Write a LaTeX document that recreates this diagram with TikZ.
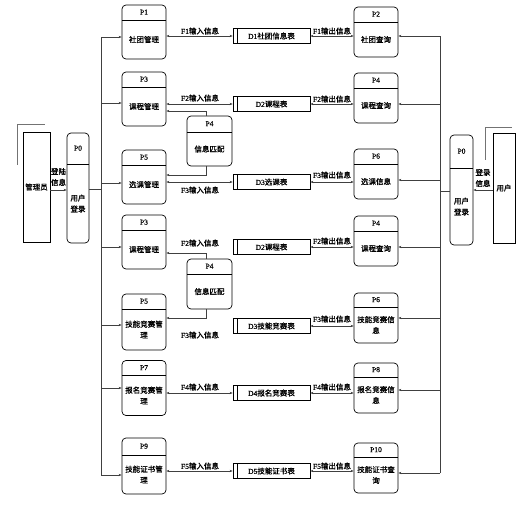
\documentclass[tikz,border=0pt]{standalone}
\usepackage{fontspec}
\setmainfont{Liberation Serif}[FakeBold=0.8]
\newfontfamily\cjk{Noto Sans CJK SC}[FakeBold=1.2]
\usetikzlibrary{arrows.meta}

% process box: name, x, y, width, height, header, id, text
\newcommand{\procnode}[8]{%
  \node[proc=#6, minimum width=#4, minimum height=#5] (#1) at (#2,#3) {};
  \node[idtext] (#1-id) at ([yshift=-#6/2]#1.north) {#7};
  \node[bodytext] (#1-tx) at ([yshift=-#6/2]#1.center) {#8};
}

\begin{document}
\begin{tikzpicture}[x=1pt, y=-1pt, font=\fontsize{7.5}{11}\selectfont,
    proc/.style={draw, rounded corners=4pt, inner sep=0pt, line width=0.7pt,
        path picture={\draw[line width=0.7pt] ([yshift=-#1]path picture bounding box.north west) -- ([yshift=-#1]path picture bounding box.north east);}},
    store/.style={draw, line width=0.7pt, minimum width=77pt, minimum height=15pt, inner sep=0pt,
        path picture={\draw[line width=0.7pt] ([xshift=4pt]path picture bounding box.north west) -- ([xshift=4pt]path picture bounding box.south west);}},
    entity/.style={draw, line width=0.7pt, minimum height=110pt, inner sep=0pt, font=\fontsize{7.5}{11}\selectfont\cjk},
    idtext/.style={inner sep=0pt},
    bodytext/.style={inner sep=0pt, align=center, font=\fontsize{7.5}{11}\selectfont\cjk},
    flowlbl/.style={inner sep=0pt},
    shadowline/.style={draw=black!55, line width=0.8pt},
    line/.style={draw=black!75, line width=0.8pt},
    arr/.style={line, -{Stealth[length=3pt,width=2.4pt]}},
    darr/.style={line, {Stealth[length=3pt,width=2.4pt]}-{Stealth[length=3pt,width=2.4pt]}}]

    \useasboundingbox (0,0) rectangle (525,504);

    % left: admin and login
    \node[entity, minimum width=27pt] (adm) at (36.5,187) {管理员};
    \draw[shadowline] ([xshift=-5pt,yshift=-33pt]adm.north west) |- ([xshift=-5pt,yshift=7pt]adm.north east);
    \procnode{p0l}{78}{188}{22pt}{110pt}{31pt}{P0}{用户\\登录}
    \node[flowlbl, align=center, font=\fontsize{7.5}{11}\selectfont\cjk] (admlbl) at (58.5,177) {登陆\\信息};

    % right: user and login
    \node[entity, minimum width=22pt] (usr) at (504,188) {用户};
    \draw[shadowline] ([xshift=-7pt,yshift=-27pt]usr.north west) |- ([xshift=-3pt,yshift=5pt]usr.north east);
    \procnode{p0r}{461.5}{190}{23pt}{110pt}{33pt}{P0}{用户\\登录}
    \node[flowlbl, align=center, font=\fontsize{7.5}{11}\selectfont\cjk] (usrlbl) at (483,178) {登录\\信息};

    % managing processes
    \procnode{p1}{144}{32}{44pt}{54pt}{15pt}{P1}{社团管理}
    \procnode{p3a}{144}{99}{44pt}{54pt}{15pt}{P3}{课程管理}
    \procnode{p5a}{144}{177}{44pt}{54pt}{15pt}{P5}{选课管理}
    \procnode{p3b}{144}{242}{44pt}{54pt}{15pt}{P3}{课程管理}
    \procnode{p5b}{144}{322}{44pt}{56pt}{15pt}{P5}{技能竞赛管\\理}
    \procnode{p7}{144}{388}{44pt}{55pt}{15pt}{P7}{报名竞赛管\\理}
    \procnode{p9}{144}{466}{44pt}{56pt}{17pt}{P9}{技能证书管\\理}

    % matching
    \procnode{p4m1}{209.5}{141}{45pt}{50pt}{16pt}{P4}{信息匹配}
    \procnode{p4m2}{209.5}{284}{45pt}{50pt}{15pt}{P4}{信息匹配}

    % query processes
    \procnode{p2}{376}{32}{44pt}{50pt}{15pt}{P2}{社团查询}
    \procnode{p4a}{376}{98}{44pt}{50pt}{15pt}{P4}{课程查询}
    \procnode{p6a}{376}{174}{44pt}{50pt}{15pt}{P6}{选课信息}
    \procnode{p4b}{376}{241}{44pt}{50pt}{15pt}{P4}{课程查询}
    \procnode{p6b}{376}{318}{44pt}{50pt}{14pt}{P6}{技能竞赛信\\息}
    \procnode{p8}{376}{388}{44pt}{50pt}{14pt}{P8}{报名竞赛信\\息}
    \procnode{p10}{376}{468}{44pt}{50pt}{14pt}{P10}{技能证书查\\询}

    % data stores
    \node[store] (d1) at (271.5,36) {D1\cjk 社团信息表};
    \node[store] (d2a) at (271.5,104) {D2\cjk 课程表};
    \node[store] (d3a) at (271.5,182) {D3\cjk 选课表};
    \node[store] (d2b) at (271.5,247) {D2\cjk 课程表};
    \node[store] (d3b) at (271.5,326) {D3\cjk 技能竞赛表};
    \node[store] (d4) at (271.5,393) {D4\cjk 报名竞赛表};
    \node[store] (d5) at (271.5,471) {D5\cjk 技能证书表};

    % flow labels
    \node[flowlbl] (f1in) at (200,31) {F1\cjk 输入信息};
    \node[flowlbl] (f1out) at (332,31) {F1\cjk 输出信息};
    \node[flowlbl] (f2in) at (200,98) {F2\cjk 输入信息};
    \node[flowlbl] (f2out) at (332,99) {F2\cjk 输出信息};
    \node[flowlbl] (f3in) at (200,190) {F3\cjk 输入信息};
    \node[flowlbl] (f3out) at (332,175) {F3\cjk 输出信息};
    \node[flowlbl] (f2inb) at (200,243) {F2\cjk 输入信息};
    \node[flowlbl] (f2outb) at (332,241) {F2\cjk 输出信息};
    \node[flowlbl] (f3inb) at (200,335) {F3\cjk 输入信息};
    \node[flowlbl] (f3outb) at (332,319) {F3\cjk 输出信息};
    \node[flowlbl] (f4in) at (200,387) {F4\cjk 输入信息};
    \node[flowlbl] (f4out) at (332,387) {F4\cjk 输出信息};
    \node[flowlbl] (f5in) at (200,466) {F5\cjk 输入信息};
    \node[flowlbl] (f5out) at (332,466) {F5\cjk 输出信息};

    % bus points
    \coordinate (lb0) at (101,189);
    \coordinate (lb1) at (101,37);
    \coordinate (lb2) at (101,103);
    \coordinate (lb3) at (101,183);
    \coordinate (lb4) at (101,247);
    \coordinate (lb5) at (101,325);
    \coordinate (lb6) at (101,388);
    \coordinate (lb7) at (101,475);
    \coordinate (rb0) at (440,191);
    \coordinate (rb1) at (440,36);
    \coordinate (rb2) at (440,104);
    \coordinate (rb3) at (440,180);
    \coordinate (rb4) at (440,247);
    \coordinate (rb5) at (440,318);
    \coordinate (rb6) at (440,390);
    \coordinate (rb7) at (440,473);

    % login flows
    \draw[arr] ([yshift=-3pt]adm.east) -- ([yshift=-2pt]p0l.west);
    \draw[arr] ([yshift=-2pt]usr.west) -- (p0r.east);
    \draw[line] (p0l.east |- lb0) -- (lb0);
    \draw[line] (p0r.west |- rb0) -- (rb0);

    % left bus
    \draw[line] (lb1) -- (lb7);
    \draw[arr] (lb1) -- (p1.west |- lb1);
    \draw[arr] (lb2) -- (p3a.west |- lb2);
    \draw[arr] (lb3) -- (p5a.west |- lb3);
    \draw[arr] (lb4) -- (p3b.west |- lb4);
    \draw[arr] (lb5) -- (p5b.west |- lb5);
    \draw[arr] (lb6) -- (p7.west |- lb6);
    \draw[arr] (lb7) -- (p9.west |- lb7);

    % right bus
    \draw[line] (rb1) -- (rb7);
    \draw[arr] (rb1) -- (p2.east |- rb1);
    \draw[arr] (rb2) -- (p4a.east |- rb2);
    \draw[arr] (rb3) -- (p6a.east |- rb3);
    \draw[arr] (rb4) -- (p4b.east |- rb4);
    \draw[arr] (rb5) -- (p6b.east |- rb5);
    \draw[arr] (rb6) -- (p8.east |- rb6);
    \draw[arr] (rb7) -- (p10.east |- rb7);

    % store flows
    \draw[darr] (p1.east |- d1) -- (d1.west);
    \draw[darr] (d1.east) -- (p2.west |- d1);
    \draw[darr] (p3a.east |- d2a) -- (d2a.west);
    \draw[darr] (d2a.east) -- (p4a.west |- d2a);
    \draw[darr] (p5a.east |- d3a) -- (d3a.west);
    \draw[darr] (d3a.east) -- (p6a.west |- d3a);
    \draw[darr] (d2b.east) -- (p4b.west |- d2b);
    \draw[darr] (d3b.east) -- (p6b.west |- d3b);
    \draw[darr] (p7.east |- d4) -- (d4.west);
    \draw[darr] (d4.east) -- (p8.west |- d4);
    \draw[darr] (p9.east |- d5) -- (d5.west);
    \draw[darr] (d5.east) -- (p10.west |- d5);

    % matching flows
    \draw[arr] ([xshift=-3pt]p4m1.north) |- ([yshift=-12pt]p3a.east);
    \draw[arr] ([xshift=-3pt]p4m1.south) |- ([yshift=2pt]p5a.east);
    \draw[arr] ([xshift=-3pt]p4m2.north) |- ([yshift=-11pt]p3b.east);
    \draw[arr] ([xshift=-3pt]p4m2.south) |- ([yshift=4pt]p5b.east);
\end{tikzpicture}
\end{document}
